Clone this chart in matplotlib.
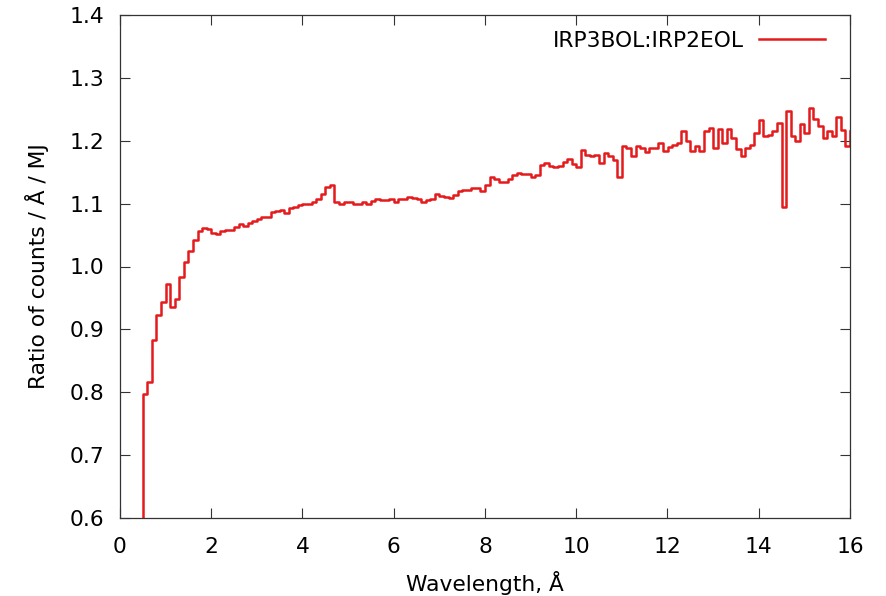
import numpy as np
import matplotlib
matplotlib.use("Agg")
import matplotlib.pyplot as plt

# ===== datos: razón de cuentas por bin de 0.1 Å (borde izquierdo desde 0.4 Å) =====
bin_start = 0.4
bin_width = 0.1
ratio = [
    0.0,                                                        # 0.4 (fuera de rango)
    0.797, 0.817, 0.883, 0.923, 0.943, 0.972, 0.936, 0.949, 0.984, 1.007,   # 0.5 - 1.4
    1.025, 1.042, 1.056, 1.062, 1.060, 1.054, 1.051, 1.057, 1.058, 1.058,   # 1.5 - 2.4
    1.063, 1.067, 1.065, 1.069, 1.072, 1.076, 1.079, 1.078, 1.086, 1.088,   # 2.5 - 3.4
    1.090, 1.085, 1.093, 1.095, 1.098, 1.100, 1.099, 1.102, 1.107, 1.116,   # 3.5 - 4.4
    1.127, 1.130, 1.103, 1.100, 1.102, 1.102, 1.099, 1.100, 1.102, 1.100,   # 4.5 - 5.4
    1.104, 1.107, 1.105, 1.106, 1.107, 1.103, 1.107, 1.108, 1.111, 1.109,   # 5.5 - 6.4
    1.107, 1.103, 1.106, 1.108, 1.115, 1.112, 1.111, 1.109, 1.114, 1.120,   # 6.5 - 7.4
    1.122, 1.122, 1.125, 1.125, 1.120, 1.130, 1.142, 1.139, 1.135, 1.134,   # 7.5 - 8.4
    1.139, 1.145, 1.149, 1.147, 1.147, 1.142, 1.145, 1.161, 1.164, 1.160,   # 8.5 - 9.4
    1.158, 1.160, 1.166, 1.171, 1.163, 1.159, 1.185, 1.178, 1.176, 1.178,   # 9.5 - 10.4
    1.165, 1.180, 1.176, 1.170, 1.142, 1.191, 1.189, 1.175, 1.192, 1.189,   # 10.5 - 11.4
    1.182, 1.188, 1.188, 1.196, 1.183, 1.190, 1.193, 1.196, 1.216, 1.199,   # 11.5 - 12.4
    1.184, 1.192, 1.184, 1.215, 1.220, 1.189, 1.219, 1.196, 1.218, 1.204,   # 12.5 - 13.4
    1.187, 1.175, 1.189, 1.193, 1.213, 1.233, 1.207, 1.209, 1.215, 1.228,   # 13.5 - 14.4
    1.095, 1.247, 1.208, 1.199, 1.226, 1.213, 1.252, 1.234, 1.224, 1.205,   # 14.5 - 15.4
    1.216, 1.208, 1.238, 1.217, 1.191, 1.215,                               # 15.5 - 16.0
]
wl = bin_start + bin_width * np.arange(len(ratio))

serie = "IRP3BOL:IRP2EOL"
xticks = [0, 2, 4, 6, 8, 10, 12, 14, 16]
yticks = [0.6, 0.7, 0.8, 0.9, 1.0, 1.1, 1.2, 1.3, 1.4]

# ===== figura estilo gnuplot =====
plt.rcParams["font.family"] = "DejaVu Sans"
plt.rcParams["font.size"] = 15.7

fig = plt.figure(figsize=(8.87, 5.96), dpi=100)
ax = fig.add_axes([120/887, 1 - 518/596, 730/887, 503/596])

ax.plot(wl, ratio, drawstyle="steps-post", color="#e41a1c", linewidth=1.8, label=serie)

ax.set_xlim(0, 16)
ax.set_ylim(0.6, 1.4)
ax.set_xticks(xticks)
ax.set_yticks(yticks)
ax.set_xticklabels([str(v) for v in xticks])
ax.set_yticklabels([f"{v:.1f}" for v in yticks])

ax.tick_params(direction="in", length=7, width=0.8, color="#333333",
               top=True, right=True)
ax.tick_params(axis="x", pad=14)
ax.tick_params(axis="y", pad=11)
for s in ax.spines.values():
    s.set_color("#333333")
    s.set_linewidth(0.9)

ax.set_xlabel("Wavelength, Å", labelpad=10)
ax.set_ylabel("Ratio of counts / Å / MJ", labelpad=15)

ax.legend(loc="upper right", frameon=False, markerfirst=False,
          handlelength=3.0, handletextpad=0.7, borderaxespad=0.2,
          bbox_to_anchor=(0.983, 0.995))

fig.savefig("out.png", dpi=100)
